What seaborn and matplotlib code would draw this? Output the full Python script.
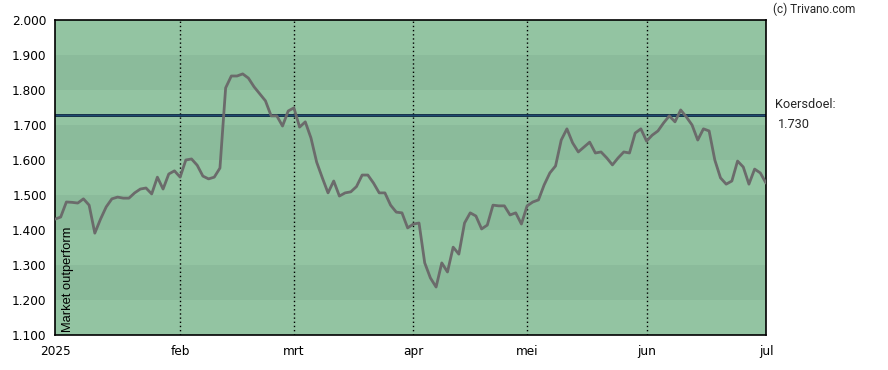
import numpy as np
import pandas as pd
import matplotlib
matplotlib.use("Agg")
import matplotlib.pyplot as plt
import seaborn as sns

# --- data (one value per trading day) ---
prices = [
    1.431, 1.437, 1.480, 1.479, 1.477, 1.489, 1.471, 1.391, 1.431, 1.466,
    1.489, 1.494, 1.491, 1.491, 1.506, 1.517, 1.520, 1.503, 1.551, 1.517,
    1.560, 1.569, 1.551, 1.600, 1.603, 1.585, 1.554, 1.546, 1.551, 1.577,
    1.806, 1.840, 1.840, 1.846, 1.834, 1.809, 1.789, 1.769, 1.726, 1.726,
    1.697, 1.740, 1.749, 1.694, 1.709, 1.663, 1.594, 1.549, 1.506, 1.540,
    1.497, 1.506, 1.509, 1.524, 1.557, 1.557, 1.534, 1.506, 1.506, 1.471,
    1.451, 1.449, 1.406, 1.417, 1.420, 1.306, 1.263, 1.237, 1.306, 1.280,
    1.351, 1.331, 1.420, 1.449, 1.440, 1.403, 1.414, 1.471, 1.469, 1.469,
    1.443, 1.449, 1.417, 1.469, 1.480, 1.486, 1.529, 1.563, 1.583, 1.657,
    1.689, 1.649, 1.623, 1.637, 1.651, 1.620, 1.623, 1.606, 1.586, 1.606,
    1.623, 1.620, 1.677, 1.689, 1.654, 1.671, 1.683, 1.706, 1.726, 1.709,
    1.743, 1.723, 1.700, 1.657, 1.689, 1.683, 1.600, 1.549, 1.531, 1.540,
    1.597, 1.580, 1.531, 1.574, 1.563, 1.534,
]
month_idx = [0, 22, 42, 63, 83, 104, 125]
month_labels = ["2025", "feb", "mrt", "apr", "mei", "jun", "jul"]
target = 1.730
y_ticks = [1.1, 1.2, 1.3, 1.4, 1.5, 1.6, 1.7, 1.8, 1.9, 2.0]

df = pd.DataFrame({"day": np.arange(len(prices)), "price": prices})

sns.set_style("white")
plt.rcParams["font.family"] = ["DejaVu Sans"]

fig = plt.figure(figsize=(8.88, 3.70), dpi=100)
ax = fig.add_axes([55 / 888, 35 / 370, 711 / 888, 315 / 370])

# alternating background bands
light, dark = "#93c4a2", "#8bbb9b"
for k, lo in enumerate(y_ticks[:-1]):
    ax.axhspan(lo, lo + 0.1, color=light if k % 2 == 0 else dark, lw=0, zorder=0)

for i in month_idx[1:-1]:
    ax.axvline(i, color="black", ls=(0, (1, 2)), lw=1, zorder=1)

ax.axhline(target, color="#0c2340", lw=2.0, zorder=2)
ax.axhline(target, color="#1d4a70", lw=0.8, zorder=2)

sns.lineplot(data=df, x="day", y="price", ax=ax, color="#6b6b6b", lw=2, zorder=3)

ax.set_xlim(0, 125)
ax.set_ylim(1.1, 2.0)
ax.set_xticks(month_idx)
ax.set_xticklabels(month_labels)
ax.set_yticks(y_ticks)
ax.set_yticklabels([f"{v:.3f}" for v in y_ticks])
ax.set_xlabel("")
ax.set_ylabel("")
ax.tick_params(axis="both", direction="out", length=4, width=1, color="black",
               labelsize=8.7, labelcolor="black", pad=2)
ax.tick_params(axis="x", pad=3)
for s in ax.spines.values():
    s.set_visible(True)
    s.set_color("black")
    s.set_linewidth(1.2)

ax.text(1.2, 1.108, "Market outperform", rotation=90, fontsize=9.3,
        ha="left", va="bottom", color="black", family="Liberation Sans")

fig.text(773 / 888, 1 - 9 / 370, "(c) Trivano.com", fontsize=8.5,
         ha="left", va="center", family="Roboto")
fig.text(775 / 888, 1 - 105 / 370, "Koersdoel:", fontsize=9.2,
         ha="left", va="center", family="Roboto")
fig.text(778 / 888, 1 - 124 / 370, "1.730", fontsize=9.2,
         ha="left", va="center", family="Roboto")

fig.savefig("out.png", dpi=100)
